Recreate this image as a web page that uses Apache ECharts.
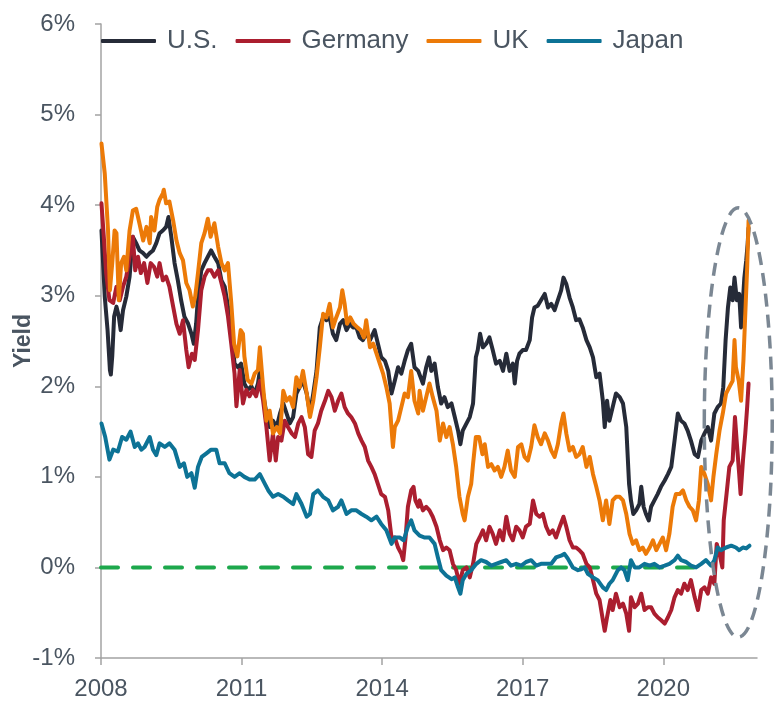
<!DOCTYPE html>
<html>
<head>
<meta charset="utf-8">
<script src="https://cdn.jsdelivr.net/npm/echarts@6/dist/echarts.min.js"></script>
<style>
  html, body { margin: 0; padding: 0; background: #ffffff; }
  #chart { width: 776px; height: 702px; }
</style>
</head>
<body>
<div id="chart"></div>
<script>
// 10-year government bond yields, % — [year, yield]
const seriesNames = ['U.S.', 'Germany', 'UK', 'Japan'];
const yearTicks = [2008, 2011, 2014, 2017, 2020];

const usYield = [
  [2008.01,3.72],[2008.08,2.99],[2008.14,2.62],[2008.19,2.18],[2008.21,2.13],[2008.24,2.33],[2008.28,2.77],
  [2008.33,2.88],[2008.38,2.77],[2008.42,2.62],[2008.47,2.84],[2008.54,2.99],[2008.61,3.21],[2008.68,3.65],
  [2008.75,3.58],[2008.82,3.50],[2008.90,3.47],[2008.97,3.43],[2009.04,3.47],[2009.11,3.50],[2009.18,3.58],
  [2009.25,3.69],[2009.32,3.72],[2009.39,3.76],[2009.44,3.87],[2009.50,3.65],[2009.57,3.36],[2009.64,3.17],
  [2009.71,2.95],[2009.78,2.77],[2009.86,2.69],[2009.93,2.58],[2009.98,2.47],[2010.03,2.69],[2010.07,2.99],
  [2010.14,3.28],[2010.21,3.36],[2010.28,3.43],[2010.35,3.50],[2010.42,3.43],[2010.50,3.36],[2010.57,3.17],
  [2010.64,3.10],[2010.71,2.88],[2010.78,2.62],[2010.85,2.25],[2010.92,2.21],[2010.99,2.25],[2011.06,2.03],
  [2011.13,1.96],[2011.21,2.00],[2011.28,1.92],[2011.35,2.03],[2011.39,2.17],[2011.46,1.92],[2011.53,1.70],
  [2011.60,1.55],[2011.67,1.62],[2011.75,1.55],[2011.82,1.70],[2011.89,1.81],[2011.96,1.70],[2012.03,1.59],
  [2012.10,1.66],[2012.17,1.92],[2012.24,1.99],[2012.31,2.06],[2012.39,1.92],[2012.46,1.70],[2012.53,1.92],
  [2012.60,2.17],[2012.67,2.65],[2012.74,2.76],[2012.81,2.73],[2012.88,2.76],[2012.95,2.58],[2013.02,2.51],
  [2013.10,2.69],[2013.17,2.73],[2013.24,2.62],[2013.31,2.69],[2013.38,2.65],[2013.45,2.65],[2013.52,2.54],
  [2013.59,2.51],[2013.66,2.58],[2013.74,2.51],[2013.84,2.62],[2013.91,2.47],[2013.98,2.32],[2014.06,2.28],
  [2014.13,2.17],[2014.20,1.92],[2014.27,2.06],[2014.34,2.21],[2014.41,2.14],[2014.48,2.28],[2014.55,2.40],
  [2014.62,2.47],[2014.69,2.21],[2014.77,2.17],[2014.87,2.03],[2014.94,2.21],[2015.00,2.32],[2015.05,2.17],
  [2015.12,2.25],[2015.19,1.99],[2015.26,1.81],[2015.33,1.88],[2015.40,1.77],[2015.48,1.81],[2015.55,1.66],
  [2015.62,1.51],[2015.67,1.36],[2015.72,1.51],[2015.80,1.59],[2015.87,1.66],[2015.94,1.81],[2016.00,2.32],
  [2016.04,2.40],[2016.09,2.58],[2016.15,2.43],[2016.22,2.47],[2016.29,2.54],[2016.36,2.40],[2016.43,2.25],
  [2016.51,2.28],[2016.58,2.17],[2016.65,2.36],[2016.72,2.17],[2016.79,2.25],[2016.83,2.03],[2016.88,2.28],
  [2016.93,2.36],[2017.00,2.40],[2017.07,2.40],[2017.15,2.51],[2017.20,2.76],[2017.25,2.87],[2017.32,2.89],
  [2017.39,2.95],[2017.47,3.02],[2017.54,2.87],[2017.61,2.91],[2017.68,2.84],[2017.75,2.95],[2017.82,3.06],
  [2017.87,3.20],[2017.93,3.13],[2018.00,2.98],[2018.07,2.87],[2018.14,2.73],[2018.21,2.74],[2018.28,2.65],
  [2018.36,2.51],[2018.43,2.43],[2018.50,2.32],[2018.57,2.10],[2018.64,2.14],[2018.71,1.84],[2018.75,1.55],
  [2018.80,1.84],[2018.85,1.62],[2018.92,1.77],[2018.99,1.92],[2019.07,1.88],[2019.14,1.81],[2019.21,1.55],
  [2019.27,0.92],[2019.31,0.74],[2019.36,0.59],[2019.42,0.63],[2019.49,0.70],[2019.53,0.89],[2019.58,0.67],
  [2019.63,0.59],[2019.69,0.52],[2019.74,0.67],[2019.81,0.74],[2019.88,0.81],[2019.95,0.89],[2020.03,0.96],
  [2020.10,1.03],[2020.17,1.11],[2020.24,1.40],[2020.31,1.70],[2020.38,1.62],[2020.45,1.59],[2020.52,1.51],
  [2020.59,1.40],[2020.67,1.25],[2020.74,1.22],[2020.81,1.40],[2020.88,1.48],[2020.95,1.55],[2021.02,1.40],
  [2021.09,1.70],[2021.16,1.77],[2021.23,1.81],[2021.28,1.99],[2021.33,2.51],[2021.38,2.87],[2021.43,3.09],
  [2021.48,2.95],[2021.52,3.20],[2021.57,2.95],[2021.62,3.02],[2021.66,2.65],[2021.70,2.95],[2021.73,3.20],
  [2021.77,3.39],[2021.80,3.57],[2021.82,3.75]
];

const germanyYield = [
  [2008.01,4.02],[2008.06,3.65],[2008.11,3.25],[2008.18,2.95],[2008.26,2.92],[2008.33,3.10],[2008.40,2.95],
  [2008.47,3.10],[2008.54,3.21],[2008.61,3.43],[2008.68,3.65],[2008.73,3.28],[2008.79,3.43],[2008.85,3.25],
  [2008.92,3.36],[2008.99,3.14],[2009.06,3.36],[2009.13,3.32],[2009.20,3.21],[2009.25,3.36],[2009.32,3.17],
  [2009.39,3.21],[2009.46,3.10],[2009.54,2.88],[2009.61,2.69],[2009.68,2.58],[2009.75,2.73],[2009.82,2.40],
  [2009.87,2.21],[2009.94,2.36],[2010.00,2.29],[2010.07,2.62],[2010.14,3.06],[2010.21,3.21],[2010.28,3.28],
  [2010.35,3.28],[2010.42,3.21],[2010.50,3.28],[2010.57,3.14],[2010.64,2.99],[2010.71,2.77],[2010.78,2.47],
  [2010.85,2.14],[2010.89,1.78],[2010.96,2.18],[2011.03,1.81],[2011.10,1.96],[2011.17,1.89],[2011.24,1.96],
  [2011.31,1.89],[2011.39,2.06],[2011.46,1.84],[2011.53,1.55],[2011.60,1.18],[2011.67,1.48],[2011.73,1.18],
  [2011.78,1.44],[2011.85,1.40],[2011.92,1.62],[2011.99,1.55],[2012.07,1.48],[2012.14,1.44],[2012.21,1.59],
  [2012.28,1.66],[2012.35,1.55],[2012.42,1.25],[2012.49,1.22],[2012.56,1.51],[2012.63,1.59],[2012.70,1.73],
  [2012.78,1.84],[2012.85,1.95],[2012.92,1.88],[2012.99,1.73],[2013.06,1.84],[2013.13,1.92],[2013.20,1.77],
  [2013.27,1.70],[2013.34,1.66],[2013.42,1.59],[2013.49,1.48],[2013.56,1.40],[2013.63,1.33],[2013.70,1.18],
  [2013.77,1.11],[2013.84,1.03],[2013.91,0.92],[2013.98,0.81],[2014.06,0.78],[2014.13,0.63],[2014.20,0.33],
  [2014.27,0.33],[2014.34,0.22],[2014.41,0.15],[2014.45,0.08],[2014.50,0.33],[2014.55,0.67],[2014.62,0.85],
  [2014.67,0.89],[2014.71,0.74],[2014.77,0.67],[2014.80,0.74],[2014.87,0.63],[2014.94,0.67],[2015.01,0.63],
  [2015.08,0.56],[2015.16,0.45],[2015.23,0.30],[2015.30,0.19],[2015.37,0.22],[2015.44,0.19],[2015.51,0.04],
  [2015.58,-0.03],[2015.65,-0.18],[2015.72,-0.03],[2015.80,0.00],[2015.87,-0.11],[2015.94,0.04],[2016.01,0.26],
  [2016.08,0.33],[2016.15,0.41],[2016.22,0.30],[2016.29,0.45],[2016.36,0.37],[2016.43,0.26],[2016.51,0.41],
  [2016.58,0.30],[2016.65,0.56],[2016.72,0.37],[2016.79,0.30],[2016.86,0.45],[2016.93,0.41],[2017.00,0.33],
  [2017.07,0.45],[2017.15,0.48],[2017.22,0.74],[2017.29,0.59],[2017.36,0.56],[2017.43,0.59],[2017.50,0.45],
  [2017.57,0.37],[2017.64,0.41],[2017.71,0.33],[2017.79,0.45],[2017.87,0.56],[2017.93,0.45],[2018.00,0.30],
  [2018.07,0.22],[2018.14,0.22],[2018.21,0.19],[2018.28,0.15],[2018.36,0.04],[2018.43,0.00],[2018.50,-0.14],
  [2018.57,-0.29],[2018.64,-0.36],[2018.71,-0.58],[2018.75,-0.70],[2018.80,-0.55],[2018.87,-0.36],[2018.92,-0.47],
  [2018.99,-0.29],[2019.07,-0.44],[2019.14,-0.40],[2019.21,-0.51],[2019.27,-0.70],[2019.31,-0.33],[2019.39,-0.44],
  [2019.46,-0.40],[2019.53,-0.29],[2019.60,-0.47],[2019.67,-0.44],[2019.74,-0.44],[2019.81,-0.51],[2019.88,-0.55],
  [2019.95,-0.58],[2020.03,-0.62],[2020.10,-0.55],[2020.17,-0.47],[2020.24,-0.33],[2020.31,-0.25],[2020.38,-0.29],
  [2020.45,-0.18],[2020.52,-0.25],[2020.59,-0.14],[2020.67,-0.33],[2020.74,-0.47],[2020.81,-0.25],[2020.88,-0.22],
  [2020.95,-0.29],[2021.02,-0.11],[2021.09,-0.18],[2021.14,0.26],[2021.20,0.15],[2021.26,0.00],[2021.29,0.52],
  [2021.35,0.81],[2021.41,1.11],[2021.48,1.18],[2021.53,1.66],[2021.57,1.37],[2021.62,1.03],[2021.65,0.81],
  [2021.70,1.18],[2021.75,1.48],[2021.79,1.77],[2021.82,2.03]
];

const ukYield = [
  [2008.01,4.68],[2008.08,4.35],[2008.15,3.72],[2008.19,3.06],[2008.24,3.36],[2008.29,3.72],[2008.33,3.69],
  [2008.38,2.95],[2008.43,3.36],[2008.49,3.43],[2008.54,3.28],[2008.61,3.72],[2008.68,3.94],[2008.75,3.96],
  [2008.82,3.80],[2008.90,3.61],[2008.97,3.76],[2009.04,3.58],[2009.07,3.87],[2009.14,3.72],[2009.20,3.98],
  [2009.25,4.06],[2009.32,4.13],[2009.34,4.17],[2009.39,4.02],[2009.46,4.04],[2009.54,3.83],[2009.61,3.61],
  [2009.68,3.47],[2009.75,3.39],[2009.82,3.14],[2009.89,3.06],[2009.96,2.88],[2010.01,2.99],[2010.07,3.25],
  [2010.14,3.58],[2010.21,3.69],[2010.28,3.85],[2010.34,3.65],[2010.42,3.80],[2010.50,3.54],[2010.57,3.36],
  [2010.64,3.28],[2010.71,3.36],[2010.78,2.92],[2010.84,2.47],[2010.91,2.33],[2010.98,2.62],[2011.03,2.58],
  [2011.06,2.33],[2011.13,2.07],[2011.21,2.03],[2011.28,2.14],[2011.35,2.18],[2011.39,2.43],[2011.46,1.99],
  [2011.53,1.62],[2011.60,1.73],[2011.67,1.48],[2011.75,1.55],[2011.82,1.48],[2011.89,1.95],[2011.96,1.84],
  [2012.03,1.88],[2012.10,1.77],[2012.17,2.10],[2012.24,1.99],[2012.31,2.17],[2012.39,1.92],[2012.46,1.66],
  [2012.53,1.84],[2012.60,2.10],[2012.67,2.43],[2012.74,2.80],[2012.81,2.76],[2012.88,2.91],[2012.95,2.65],
  [2013.02,2.76],[2013.10,2.87],[2013.15,3.06],[2013.20,2.91],[2013.25,2.69],[2013.32,2.76],[2013.39,2.69],
  [2013.47,2.65],[2013.54,2.62],[2013.61,2.54],[2013.66,2.73],[2013.74,2.43],[2013.81,2.47],[2013.88,2.36],
  [2013.95,2.25],[2014.02,2.14],[2014.09,1.99],[2014.16,1.81],[2014.23,1.33],[2014.27,1.55],[2014.34,1.62],
  [2014.41,1.77],[2014.48,1.92],[2014.55,1.88],[2014.62,2.17],[2014.69,1.84],[2014.77,1.70],[2014.80,1.95],
  [2014.87,1.73],[2014.94,1.88],[2015.01,2.03],[2015.08,1.88],[2015.16,1.73],[2015.23,1.40],[2015.30,1.59],
  [2015.37,1.44],[2015.44,1.55],[2015.51,1.36],[2015.58,1.11],[2015.65,0.78],[2015.72,0.59],[2015.76,0.52],
  [2015.83,0.78],[2015.90,0.92],[2015.94,1.14],[2016.00,1.44],[2016.07,1.44],[2016.14,1.25],[2016.19,1.36],
  [2016.26,1.11],[2016.33,1.14],[2016.40,1.07],[2016.47,1.11],[2016.54,1.00],[2016.61,1.11],[2016.68,1.29],
  [2016.75,1.07],[2016.83,1.00],[2016.90,1.33],[2016.97,1.36],[2017.04,1.22],[2017.11,1.18],[2017.18,1.33],
  [2017.25,1.57],[2017.32,1.44],[2017.39,1.36],[2017.47,1.48],[2017.54,1.40],[2017.61,1.29],[2017.68,1.22],
  [2017.75,1.36],[2017.82,1.59],[2017.87,1.70],[2017.93,1.48],[2018.00,1.29],[2018.07,1.33],[2018.14,1.22],
  [2018.21,1.25],[2018.28,1.33],[2018.36,1.11],[2018.43,1.22],[2018.50,1.03],[2018.57,0.89],[2018.64,0.74],
  [2018.71,0.52],[2018.78,0.74],[2018.85,0.48],[2018.92,0.74],[2018.99,0.78],[2019.07,0.78],[2019.14,0.74],
  [2019.21,0.59],[2019.28,0.37],[2019.35,0.26],[2019.42,0.30],[2019.49,0.19],[2019.56,0.22],[2019.63,0.15],
  [2019.71,0.22],[2019.78,0.30],[2019.85,0.19],[2019.92,0.26],[2019.99,0.33],[2020.06,0.19],[2020.13,0.37],
  [2020.20,0.67],[2020.27,0.81],[2020.35,0.81],[2020.42,0.85],[2020.49,0.74],[2020.56,0.67],[2020.63,0.63],
  [2020.70,0.52],[2020.76,0.74],[2020.81,1.11],[2020.88,1.03],[2020.95,0.92],[2021.02,0.74],[2021.07,1.00],
  [2021.13,1.25],[2021.20,1.51],[2021.27,1.70],[2021.34,1.92],[2021.41,1.99],[2021.48,2.06],[2021.52,2.51],
  [2021.55,2.21],[2021.61,2.06],[2021.66,1.84],[2021.71,2.28],[2021.75,2.80],[2021.79,3.31],[2021.82,3.83]
];

const japanYield = [
  [2008.01,1.59],[2008.09,1.44],[2008.18,1.19],[2008.26,1.30],[2008.36,1.28],[2008.45,1.44],[2008.54,1.41],
  [2008.63,1.50],[2008.72,1.33],[2008.79,1.37],[2008.86,1.30],[2008.93,1.33],[2009.04,1.44],[2009.11,1.30],
  [2009.18,1.24],[2009.25,1.37],[2009.36,1.33],[2009.46,1.37],[2009.57,1.30],[2009.68,1.11],[2009.77,1.15],
  [2009.84,1.00],[2009.93,1.04],[2010.00,0.88],[2010.07,1.11],[2010.15,1.22],[2010.25,1.26],[2010.35,1.30],
  [2010.46,1.30],[2010.53,1.15],[2010.64,1.15],[2010.74,1.04],[2010.85,1.00],[2010.96,1.04],[2011.06,1.00],
  [2011.17,0.97],[2011.28,0.97],[2011.39,1.03],[2011.50,0.92],[2011.57,0.85],[2011.67,0.78],[2011.78,0.81],
  [2011.89,0.78],[2011.99,0.74],[2012.10,0.70],[2012.17,0.81],[2012.28,0.70],[2012.39,0.56],[2012.46,0.59],
  [2012.53,0.81],[2012.63,0.85],[2012.74,0.78],[2012.85,0.74],[2012.95,0.63],[2013.06,0.67],[2013.13,0.74],
  [2013.24,0.59],[2013.34,0.63],[2013.45,0.63],[2013.56,0.59],[2013.66,0.56],[2013.77,0.52],[2013.88,0.56],
  [2013.98,0.48],[2014.09,0.41],[2014.20,0.26],[2014.27,0.33],[2014.38,0.33],[2014.46,0.30],[2014.55,0.45],
  [2014.62,0.52],[2014.69,0.41],[2014.80,0.35],[2014.91,0.33],[2015.01,0.33],[2015.12,0.26],[2015.19,0.11],
  [2015.26,-0.03],[2015.37,-0.09],[2015.48,-0.13],[2015.55,-0.11],[2015.62,-0.22],[2015.67,-0.29],[2015.72,-0.14],
  [2015.80,-0.07],[2015.90,-0.03],[2016.01,0.04],[2016.11,0.08],[2016.22,0.06],[2016.33,0.02],[2016.43,0.04],
  [2016.54,0.06],[2016.65,0.08],[2016.75,0.02],[2016.86,0.04],[2016.97,0.02],[2017.07,0.06],[2017.18,0.08],
  [2017.29,0.02],[2017.39,0.04],[2017.50,0.04],[2017.61,0.04],[2017.71,0.11],[2017.82,0.13],[2017.89,0.15],
  [2017.96,0.10],[2018.07,0.00],[2018.18,-0.03],[2018.25,-0.02],[2018.32,0.00],[2018.39,-0.07],[2018.50,-0.11],
  [2018.60,-0.14],[2018.71,-0.22],[2018.78,-0.25],[2018.85,-0.18],[2018.92,-0.14],[2019.03,-0.03],[2019.10,0.00],
  [2019.17,-0.03],[2019.24,-0.14],[2019.31,0.08],[2019.39,0.00],[2019.49,0.00],[2019.60,0.04],[2019.71,0.02],
  [2019.81,0.04],[2019.92,0.00],[2020.03,0.02],[2020.13,0.04],[2020.24,0.08],[2020.31,0.13],[2020.38,0.08],
  [2020.49,0.06],[2020.59,0.02],[2020.70,0.00],[2020.81,0.04],[2020.91,0.08],[2021.02,0.02],[2021.09,0.08],
  [2021.16,0.22],[2021.23,0.19],[2021.34,0.22],[2021.45,0.24],[2021.55,0.22],[2021.62,0.19],[2021.70,0.22],
  [2021.77,0.21],[2021.84,0.24]
];

// zero reference line
const zeroLine = [[2008, 0], [2020.9, 0]];
// highlighted recent period: [centre year, centre yield, half-width (years), half-height (pp)]
const highlightZone = [2021.60, 1.60, 0.725, 2.37];

const colors = {
  'U.S.': '#262b38',
  'Germany': '#ab1e2f',
  'UK': '#ec7a08',
  'Japan': '#0d7396'
};
const textColor = '#4a5561';
const axisColor = '#a3a3a3';
const fontFamily = '"Liberation Sans", Arial, sans-serif';

const chart = echarts.init(document.getElementById('chart'), null, { renderer: 'canvas' });

const lineSeries = (name, data) => ({
  name,
  type: 'line',
  data,
  showSymbol: false,
  symbol: 'none',
  smooth: false,
  lineStyle: { color: colors[name], width: 4, join: 'round', cap: 'round' },
  itemStyle: { color: colors[name] },
  emphasis: { disabled: true },
  z: 3
});

chart.setOption({
  animation: false,
  backgroundColor: '#ffffff',
  textStyle: { fontFamily },
  grid: { left: 101, right: 19, top: 24, bottom: 44, containLabel: false, outerBoundsMode: 'none' },
  legend: {
    data: seriesNames,
    left: 101,
    top: 28,
    padding: 0,
    icon: 'roundRect',
    itemWidth: 55,
    itemHeight: 4,
    itemGap: 18,
    textStyle: { color: textColor, fontSize: 26, fontFamily, padding: [0, 0, 0, 6] }
  },
  xAxis: {
    type: 'value',
    min: 2008,
    max: 2022,
    axisLine: { show: true, onZero: false, lineStyle: { color: axisColor, width: 1.5 } },
    axisTick: { show: true, length: 7, lineStyle: { color: axisColor, width: 1.5 }, customValues: yearTicks },
    axisLabel: { color: textColor, fontSize: 24, margin: 19, customValues: yearTicks, formatter: v => String(v) },
    splitLine: { show: false }
  },
  yAxis: {
    type: 'value',
    min: -1,
    max: 6,
    interval: 1,
    name: 'Yield',
    nameLocation: 'middle',
    nameRotate: 90,
    nameGap: 66,
    nameMoveOverlap: false,
    nameTextStyle: { color: textColor, fontSize: 23, fontWeight: 'bold', fontFamily },
    axisLine: { show: true, lineStyle: { color: axisColor, width: 1.5 } },
    axisTick: { show: true, length: 6, lineStyle: { color: axisColor, width: 1.5 } },
    axisLabel: { color: textColor, fontSize: 24, margin: 26, formatter: '{value}%' },
    splitLine: { show: false }
  },
  series: [
    {
      name: 'zero',
      type: 'line',
      data: zeroLine,
      symbol: 'none',
      lineStyle: { color: '#1da84c', width: 4, type: [17, 15], cap: 'round' },
      emphasis: { disabled: true },
      silent: true,
      z: 2
    },
    lineSeries('U.S.', usYield),
    lineSeries('Germany', germanyYield),
    lineSeries('UK', ukYield),
    lineSeries('Japan', japanYield),
    {
      name: 'highlight',
      type: 'custom',
      coordinateSystem: 'cartesian2d',
      clip: false,
      silent: true,
      z: 5,
      data: [highlightZone],
      encode: { x: 0, y: 1 },
      renderItem(params, api) {
        const c = api.coord([api.value(0), api.value(1)]);
        const e = api.coord([api.value(0) + api.value(2), api.value(1) + api.value(3)]);
        return {
          type: 'ellipse',
          shape: { cx: c[0], cy: c[1], rx: Math.abs(e[0] - c[0]), ry: Math.abs(c[1] - e[1]) },
          style: { fill: 'none', stroke: '#7b8793', lineWidth: 3.5, lineDash: [13, 8] }
        };
      }
    }
  ]
});
</script>
</body>
</html>
